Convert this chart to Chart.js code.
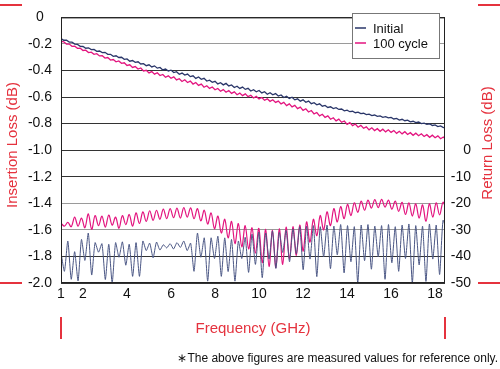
<!DOCTYPE html>
<html>
<head>
<meta charset="utf-8">
<script src="https://cdn.jsdelivr.net/npm/chart.js@4.4.0/dist/chart.umd.min.js"></script>
<style>
  html, body { margin: 0; padding: 0; background: #fff; }
  #loss { display: block; }
</style>
</head>
<body>
<canvas id="loss" width="500" height="369"></canvas>
<script>
// Frequency axis (GHz)
const X_TICKS = [1, 2, 4, 6, 8, 10, 12, 14, 16, 18];
const X_MIN = 1, X_MAX = 18.45;
const IL_START = 1, IL_STEP = 0.125;  // insertion loss sampling
const RL_START = 1, RL_STEP = 0.155;  // return loss sampling

// Insertion loss (dB)
const ilInitial = [
  -0.160, -0.172, -0.172, -0.186, -0.186, -0.201, -0.203, -0.218,
  -0.219, -0.232, -0.229, -0.242, -0.241, -0.256, -0.253, -0.265,
  -0.263, -0.278, -0.278, -0.293, -0.289, -0.302, -0.300, -0.316,
  -0.313, -0.330, -0.325, -0.338, -0.334, -0.351, -0.348, -0.364,
  -0.357, -0.373, -0.365, -0.382, -0.377, -0.396, -0.389, -0.403,
  -0.397, -0.415, -0.409, -0.428, -0.419, -0.434, -0.427, -0.446,
  -0.440, -0.459, -0.449, -0.466, -0.459, -0.479, -0.473, -0.489,
  -0.481, -0.501, -0.492, -0.508, -0.497, -0.516, -0.509, -0.528,
  -0.518, -0.535, -0.525, -0.542, -0.534, -0.554, -0.545, -0.560,
  -0.550, -0.569, -0.560, -0.579, -0.567, -0.583, -0.574, -0.592,
  -0.584, -0.603, -0.593, -0.610, -0.601, -0.621, -0.613, -0.631,
  -0.621, -0.639, -0.630, -0.650, -0.642, -0.658, -0.651, -0.669,
  -0.663, -0.678, -0.673, -0.686, -0.680, -0.693, -0.690, -0.703,
  -0.698, -0.710, -0.707, -0.718, -0.713, -0.725, -0.722, -0.732,
  -0.728, -0.739, -0.735, -0.745, -0.742, -0.752, -0.747, -0.757,
  -0.753, -0.765, -0.761, -0.773, -0.767, -0.778, -0.774, -0.786,
  -0.782, -0.792, -0.788, -0.800, -0.796, -0.806, -0.801, -0.814,
  -0.809, -0.822, -0.817, -0.830, -0.827
];
const ilCycle = [
  -0.180, -0.184, -0.201, -0.201, -0.218, -0.217, -0.233, -0.232,
  -0.249, -0.247, -0.265, -0.262, -0.278, -0.273, -0.290, -0.288,
  -0.306, -0.302, -0.321, -0.317, -0.334, -0.328, -0.346, -0.342,
  -0.362, -0.357, -0.377, -0.370, -0.389, -0.381, -0.403, -0.398,
  -0.418, -0.408, -0.427, -0.417, -0.438, -0.430, -0.451, -0.440,
  -0.458, -0.448, -0.471, -0.462, -0.483, -0.470, -0.490, -0.480,
  -0.502, -0.490, -0.512, -0.502, -0.526, -0.515, -0.535, -0.524,
  -0.545, -0.535, -0.556, -0.544, -0.564, -0.551, -0.572, -0.561,
  -0.582, -0.570, -0.589, -0.576, -0.597, -0.586, -0.607, -0.595,
  -0.614, -0.603, -0.624, -0.613, -0.632, -0.620, -0.640, -0.630,
  -0.651, -0.640, -0.664, -0.651, -0.674, -0.662, -0.687, -0.676,
  -0.700, -0.688, -0.712, -0.701, -0.727, -0.716, -0.741, -0.729,
  -0.753, -0.742, -0.767, -0.756, -0.779, -0.766, -0.790, -0.780,
  -0.805, -0.792, -0.815, -0.803, -0.827, -0.813, -0.835, -0.824,
  -0.847, -0.831, -0.852, -0.838, -0.858, -0.842, -0.862, -0.846,
  -0.866, -0.852, -0.873, -0.858, -0.877, -0.861, -0.882, -0.868,
  -0.888, -0.872, -0.891, -0.876, -0.897, -0.883, -0.903, -0.887,
  -0.906, -0.892, -0.914, -0.901, -0.920
];

// Return loss (dB)
const rlInitial = [
  -38.4, -45.6, -34.2, -48.6, -38.2, -49.2, -33.6,
  -41.5, -31.2, -47.0, -34.8, -38.4, -35.2,
  -48.7, -35.4, -50.0, -34.8, -40.3, -34.5, -43.3,
  -35.4, -47.5, -34.8, -47.5, -34.2, -37.8,
  -35.0, -40.5, -34.6, -37.6, -35.6, -36.8,
  -35.2, -37.2, -34.8, -36.6, -34.2, -37.8,
  -35.0, -45.6, -31.2, -40.3, -33.0, -49.3,
  -33.0, -40.8, -32.4, -47.5, -33.0, -45.7,
  -33.6, -49.3, -34.2, -40.8, -32.8, -46.0,
  -31.6, -43.0, -30.8, -48.0, -31.2, -41.0,
  -30.4, -44.5, -31.0, -38.5, -30.2, -42.0,
  -29.6, -39.0, -28.8, -45.0, -28.6, -41.0,
  -28.4, -47.6, -28.8, -40.2, -28.2, -44.6,
  -28.6, -39.4, -28.0, -46.2, -28.4, -42.0,
  -28.8, -50.0, -28.2, -41.6, -28.0, -44.8,
  -28.6, -40.2, -28.4, -48.6, -28.0, -42.4,
  -28.8, -45.6, -28.2, -40.8, -27.8, -50.0,
  -28.4, -43.2, -28.6, -49.4, -27.8, -41.0,
  -28.2, -46.8, -26.4, -30.0
];
const rlCycle = [
  -27.5, -28.6, -27.2, -28.8, -25.2, -28.6, -25.6,
  -29.2, -24.0, -29.8, -24.6, -28.4, -24.8,
  -29.0, -24.4, -28.2, -25.2, -29.4, -24.6, -28.0,
  -24.2, -28.6, -23.6, -27.6, -23.2, -26.8,
  -22.8, -26.4, -22.6, -26.0, -22.2, -25.8,
  -22.0, -25.4, -21.8, -25.6, -21.6, -25.2,
  -21.7, -25.8, -22.0, -26.6, -22.6, -27.8,
  -23.6, -29.6, -24.8, -31.2, -26.0, -33.0,
  -26.8, -35.2, -27.6, -36.4, -28.4, -37.2,
  -29.2, -38.8, -29.4, -42.4, -29.8, -43.8,
  -30.2, -44.2, -29.6, -43.0, -29.0, -41.0,
  -28.8, -39.6, -28.2, -38.0, -27.0, -34.6,
  -26.0, -32.2, -24.6, -30.0, -23.2, -28.4,
  -22.0, -27.0, -21.2, -25.8, -20.4, -24.6,
  -19.8, -23.4, -19.2, -22.6, -18.8, -21.8,
  -18.6, -21.6, -18.5, -21.4, -18.8, -22.2,
  -19.2, -23.0, -19.6, -24.2, -19.8, -24.8,
  -20.2, -25.6, -20.6, -26.8, -20.2, -25.2,
  -19.8, -24.4, -19.6, -23.0
];

const SERIES = ['Initial', '100 cycle'];
const NAVY = '#2a3669';
const NAVY_RL = '#4a5684';
const MAGENTA = '#e3157f';
const RED = '#e5323e';
const FONT = '"Liberation Sans", Arial, Helvetica, sans-serif';
const LIGHT_GRID = ['-0.2', '-1.4', '-1.6'];

const toPoints = (vals, start, step) => vals.map((v, i) => ({ x: start + i * step, y: v }));

// Titles, frame, legend and the red marks round the plot
const decor = {
  id: 'decor',
  afterDatasetsDraw(chart) {
    const { ctx, chartArea: a } = chart;
    ctx.save();
    ctx.strokeStyle = '#222';
    ctx.lineWidth = 1;
    ctx.strokeRect(a.left + 0.5, a.top + 0.5, a.right - a.left - 1, a.bottom - a.top - 1);

    // legend box
    const bx = 352, by = 13, bw = 87, bh = 45;
    ctx.fillStyle = '#fff';
    ctx.fillRect(bx, by, bw, bh);
    ctx.strokeStyle = '#777';
    ctx.strokeRect(bx + 0.5, by + 0.5, bw, bh);
    ctx.font = '13px ' + FONT;
    ctx.textBaseline = 'middle';
    ctx.textAlign = 'left';
    [[NAVY, 28], [MAGENTA, 43]].forEach(([c, y], i) => {
      ctx.strokeStyle = c;
      ctx.lineWidth = 1.5;
      ctx.beginPath();
      ctx.moveTo(355, y);
      ctx.lineTo(366, y);
      ctx.stroke();
      ctx.fillStyle = '#111';
      ctx.fillText(SERIES[i], 373, y + 1);
    });
    ctx.restore();
  },
  afterDraw(chart) {
    const { ctx, chartArea: a } = chart;
    ctx.save();
    ctx.fillStyle = RED;
    ctx.strokeStyle = RED;
    ctx.lineWidth = 2;
    ctx.font = '15px ' + FONT;
    ctx.textAlign = 'center';
    ctx.textBaseline = 'middle';

    // axis titles
    ctx.save();
    ctx.translate(13, 145);
    ctx.rotate(-Math.PI / 2);
    ctx.fillText('Insertion Loss (dB)', 0, 0);
    ctx.restore();
    ctx.save();
    ctx.translate(488, 143);
    ctx.rotate(-Math.PI / 2);
    ctx.fillText('Return Loss (dB)', 0, 0);
    ctx.restore();
    ctx.fillText('Frequency (GHz)', 253, 329);

    // red marks
    ctx.beginPath();
    ctx.moveTo(0, 5); ctx.lineTo(22, 5);
    ctx.moveTo(0, a.bottom); ctx.lineTo(22, a.bottom);
    ctx.moveTo(478, 5); ctx.lineTo(500, 5);
    ctx.moveTo(478, a.bottom); ctx.lineTo(500, a.bottom);
    ctx.moveTo(a.left, 317); ctx.lineTo(a.left, 339);
    ctx.moveTo(a.right, 317); ctx.lineTo(a.right, 339);
    ctx.stroke();

    // footnote
    ctx.fillStyle = '#111';
    ctx.font = '12px ' + FONT;
    ctx.textAlign = 'right';
    ctx.fillText('\u2217The above figures are measured values for reference only.', 498, 359);
    ctx.restore();
  }
};

const lossChart = document.getElementById('loss');

new Chart(lossChart, {
  type: 'line',
  data: {
    datasets: [{
      label: 'Initial RL',
      data: toPoints(rlInitial, RL_START, RL_STEP),
      yAxisID: 'y2',
      borderColor: NAVY_RL,
      borderWidth: 1,
      tension: 0.2
    }, {
      label: '100 cycle RL',
      data: toPoints(rlCycle, RL_START, RL_STEP),
      yAxisID: 'y2',
      borderColor: MAGENTA,
      borderWidth: 1.2,
      tension: 0.35
    }, {
      label: SERIES[0],
      data: toPoints(ilInitial, IL_START, IL_STEP),
      yAxisID: 'y',
      borderColor: NAVY,
      borderWidth: 1.3,
      tension: 0
    }, {
      label: SERIES[1],
      data: toPoints(ilCycle, IL_START, IL_STEP),
      yAxisID: 'y',
      borderColor: MAGENTA,
      borderWidth: 1.3,
      tension: 0
    }]
  },
  options: {
    responsive: false,
    animation: false,
    devicePixelRatio: 1,
    layout: { padding: { top: 5, right: 29, left: 0, bottom: 0 } },
    elements: { point: { radius: 0 } },
    plugins: { legend: { display: false }, tooltip: { enabled: false } },
    scales: {
      x: {
        type: 'linear',
        min: X_MIN,
        max: X_MAX,
        afterBuildTicks: axis => { axis.ticks = X_TICKS.map(v => ({ value: v })); },
        afterFit: axis => { axis.height = 86; },
        grid: { display: false, drawTicks: false },
        border: { display: false },
        ticks: {
          padding: 3,
          color: '#111',
          font: { family: FONT, size: 14 },
          maxRotation: 0,
          autoSkip: false,
          callback: v => String(v)
        }
      },
      y: {
        position: 'left',
        min: -2,
        max: 0,
        afterFit: axis => { axis.width = 61; },
        grid: {
          drawTicks: false,
          lineWidth: 1,
          color: c => LIGHT_GRID.includes(c.tick.value.toFixed(1)) ? '#9a9a9a' : '#333'
        },
        border: { display: false },
        ticks: {
          stepSize: 0.2,
          padding: 9,
          crossAlign: 'center',
          color: '#111',
          font: { family: FONT, size: 14 },
          callback: v => Math.abs(v) < 1e-9 ? '0' : v.toFixed(1)
        }
      },
      y2: {
        position: 'right',
        min: -50,
        max: 50,
        afterFit: axis => { axis.width = 26; },
        grid: { display: false, drawTicks: false },
        border: { display: false },
        ticks: {
          stepSize: 10,
          padding: 5,
          crossAlign: 'far',
          color: '#111',
          font: { family: FONT, size: 14 },
          callback: v => v <= 0 ? String(Math.round(v)) : ''
        }
      }
    }
  },
  plugins: [decor]
});
</script>
</body>
</html>
